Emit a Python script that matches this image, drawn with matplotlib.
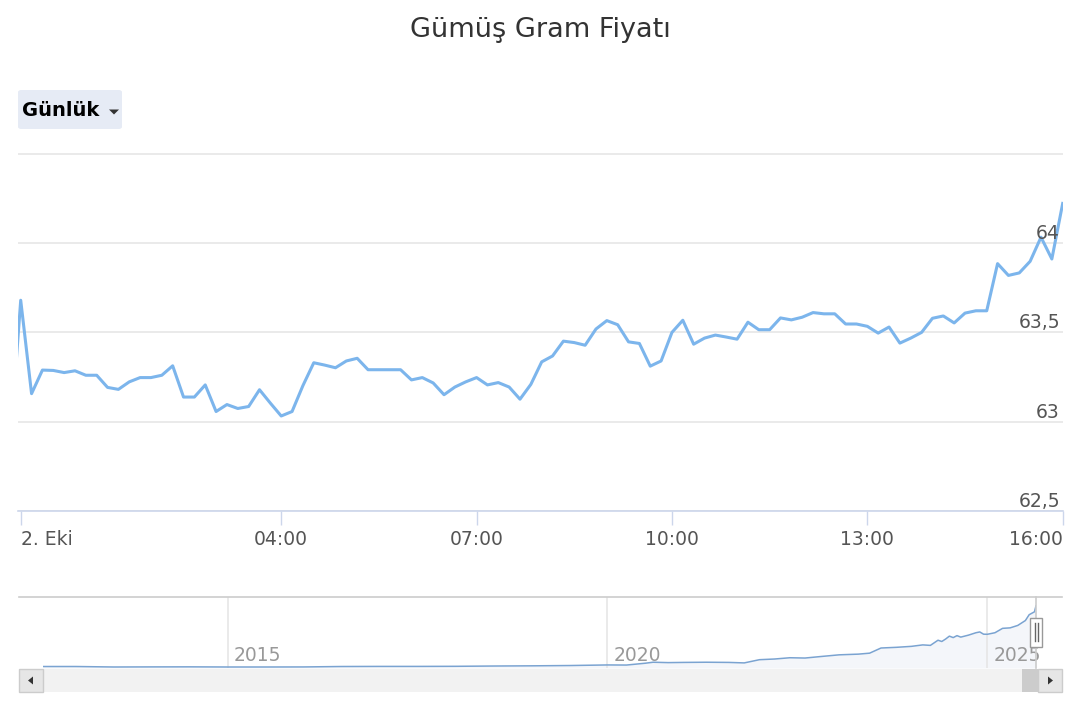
import numpy as np
import pandas as pd
import matplotlib
matplotlib.use('Agg')
import matplotlib.pyplot as plt
from matplotlib.patches import Rectangle, FancyBboxPatch, Polygon
from matplotlib.lines import Line2D

plt.rcParams['font.family'] = ['DejaVu Sans']

title = 'Gümüş Gram Fiyatı'
button_label = 'Günlük'

# 10 dakikalik gram fiyatlari, 1 Eki 23:50 - 2 Eki 16:00
start_time = '2025-10-01 23:50'
prices = [62.85,
          63.68, 63.157, 63.289, 63.287, 63.275, 63.285, 63.26, 63.26, 63.192, 63.181,
          63.223, 63.247, 63.247, 63.26, 63.313, 63.138, 63.138, 63.206, 63.057, 63.096,
          63.074, 63.085, 63.179, 63.104, 63.032, 63.057, 63.202, 63.33, 63.317, 63.302,
          63.34, 63.355, 63.291, 63.291, 63.291, 63.291, 63.234, 63.247, 63.217, 63.151,
          63.194, 63.223, 63.247, 63.206, 63.219, 63.194, 63.126, 63.209, 63.335, 63.368,
          63.451, 63.443, 63.428, 63.519, 63.566, 63.543, 63.447, 63.438, 63.311, 63.34,
          63.5, 63.568, 63.434, 63.468, 63.485, 63.474, 63.462, 63.557, 63.515, 63.515,
          63.581, 63.57, 63.585, 63.611, 63.604, 63.604, 63.547, 63.547, 63.534, 63.496,
          63.53, 63.44, 63.468, 63.5, 63.579, 63.592, 63.553, 63.608, 63.621, 63.621,
          63.885, 63.819, 63.833, 63.898, 64.033, 63.911, 64.222]

x_tick_times = ['2025-10-02 00:00', '2025-10-02 04:00', '2025-10-02 07:00',
                '2025-10-02 10:00', '2025-10-02 13:00', '2025-10-02 16:00']
x_tick_labels = ['2. Eki', '04:00', '07:00', '10:00', '13:00', '16:00']
y_ticks = [62.5, 63.0, 63.5, 64.0, 64.5]
y_tick_labels = ['62,5', '63', '63,5', '64']

# navigator: uzun donem
nav_years = [2012.57, 2013.0, 2013.5, 2014.0, 2014.5, 2015.0, 2015.5, 2016.0, 2016.5, 2017.0,
             2017.5, 2018.0, 2018.5, 2019.0, 2019.5, 2020.0, 2020.25, 2020.5, 2020.6, 2020.8,
             2021.0, 2021.3, 2021.6, 2021.8, 2022.0, 2022.2, 2022.4, 2022.6, 2022.8, 2023.05,
             2023.3, 2023.45, 2023.6, 2023.8, 2024.0, 2024.15, 2024.25, 2024.35, 2024.4, 2024.45,
             2024.5, 2024.55, 2024.6, 2024.65, 2024.75, 2024.85, 2024.9, 2024.95, 2025.0, 2025.1,
             2025.2, 2025.3, 2025.4, 2025.5, 2025.55, 2025.62, 2025.64]
nav_prices = [1.8, 1.8, 1.3, 1.4, 1.45, 1.3, 1.3, 1.35, 1.8, 1.9,
              1.9, 2.0, 2.3, 2.5, 2.8, 3.4, 3.3, 5.2, 6.2, 5.8,
              6.0, 6.2, 6.0, 5.5, 8.8, 9.5, 10.8, 10.5, 12.0, 13.8,
              14.5, 15.5, 20.8, 21.5, 22.5, 24.0, 23.5, 28.8, 27.5, 30.0,
              33.0, 31.5, 33.5, 32.0, 34.0, 36.5, 37.3, 35.0, 34.9, 36.5,
              41.0, 41.5, 44.0, 49.0, 55.0, 58.0, 64.2]
nav_tick_years = [2015, 2020, 2025]


def fx(px):
    return px / 1080


def fy(py):
    return 1 - py / 720


fig = plt.figure(figsize=(10.8, 7.2), dpi=100)

fig.text(0.5, fy(30), title, ha='center', va='center', fontsize=19.5, color='#333333')

# Günlük butonu
fig.patches.append(FancyBboxPatch((fx(18), fy(129)), fx(104), 39 / 720,
                                  boxstyle='round,pad=0,rounding_size=0.003',
                                  transform=fig.transFigure, fc='#e6ebf5', ec='none'))
fig.text(fx(22), fy(110), button_label, fontweight='bold', fontsize=14,
         ha='left', va='center', color='#000000')
fig.patches.append(Polygon([(fx(109), fy(109.5)), (fx(119), fy(109.5)), (fx(114), fy(114.5))],
                           closed=True, transform=fig.transFigure, fc='#333333', ec='none'))

# ana grafik
times = pd.date_range(start_time, periods=len(prices), freq='10min')
ax = fig.add_axes([fx(18), fy(511), fx(1062.7) - fx(18), fy(152) - fy(511)])
ax.plot(times, prices, color='#7cb5ec', lw=2.2, solid_joinstyle='round', zorder=3)
ax.set_xlim(pd.Timestamp('2025-10-01 23:57:30'), pd.Timestamp('2025-10-02 16:00'))
ax.set_ylim(62.5, 64.51)
ax.set_yticks(y_ticks)
ax.yaxis.grid(True, color='#e6e6e6', lw=1.2)
ax.tick_params(axis='y', length=0, labelleft=False)
for s in ['top', 'left', 'right']:
    ax.spines[s].set_visible(False)
ax.spines['bottom'].set_color('#ccd6eb')
ax.spines['bottom'].set_linewidth(1.2)
ax.set_xticks(pd.to_datetime(x_tick_times))
ax.set_xticklabels(x_tick_labels)
ax.tick_params(axis='x', length=10, width=1, color='#ccd6eb', pad=4,
               labelsize=13.5, labelcolor='#555555')
xt = ax.get_xticklabels()
xt[0].set_ha('left')
xt[-1].set_ha('right')
for v, lab in zip(y_ticks, y_tick_labels):
    ax.annotate(lab, xy=(1, v), xycoords=ax.get_yaxis_transform(), xytext=(-2, 3),
                textcoords='offset points', ha='right', va='baseline',
                fontsize=13.5, color='#555555', zorder=4)

# navigator
nav = fig.add_axes([fx(43), fy(668), fx(1036) - fx(43), fy(597) - fy(668)])
nav.set_xlim(2012.57, 2025.64)
nav.set_ylim(0.27, 73.2)
nav.fill_between(nav_years, nav_prices, 0.27, color='#335cad', alpha=0.05, lw=0)
nav.plot(nav_years, nav_prices, color='#7aa3d1', lw=1.1, zorder=3)
nav.set_xticks(nav_tick_years)
nav.set_yticks([])
nav.xaxis.grid(True, color='#e6e6e6', lw=1.2)
nav.tick_params(axis='x', length=0, labelbottom=False)
for s in nav.spines.values():
    s.set_visible(False)
for yr in nav_tick_years:
    nav.annotate(str(yr), xy=(yr, 0), xycoords=nav.get_xaxis_transform(), xytext=(4.3, 5),
                 textcoords='offset points', ha='left', va='baseline',
                 fontsize=13.5, color='#999999', zorder=1)

fig.lines.append(Line2D([fx(19), fx(1062)], [fy(597), fy(597)], transform=fig.transFigure,
                        color='#cccccc', lw=1.2))
fig.lines.append(Line2D([fx(1036), fx(1036)], [fy(597), fy(668)], transform=fig.transFigure,
                        color='#cccccc', lw=1.2))

# scrollbar
fig.patches.append(Rectangle((fx(19), fy(692)), fx(1043), 23 / 720, transform=fig.transFigure,
                             fc='#f2f2f2', ec='none'))
fig.patches.append(Rectangle((fx(1022), fy(692)), fx(16), 23 / 720, transform=fig.transFigure,
                             fc='#cccccc', ec='none'))
for bx in [19, 1038]:
    fig.patches.append(Rectangle((fx(bx), fy(692)), fx(24), 23 / 720, transform=fig.transFigure,
                                 fc='#e6e6e6', ec='#cccccc', lw=1))
fig.patches.append(Polygon([(fx(28), fy(680.5)), (fx(33), fy(676.5)), (fx(33), fy(684.5))],
                           closed=True, transform=fig.transFigure, fc='#333333', ec='none'))
fig.patches.append(Polygon([(fx(1053), fy(680.5)), (fx(1048), fy(676.5)), (fx(1048), fy(684.5))],
                           closed=True, transform=fig.transFigure, fc='#333333', ec='none'))

# navigator tutamaci
fig.patches.append(Rectangle((fx(1030), fy(647)), fx(12), 29 / 720, transform=fig.transFigure,
                             fc='#ffffff', ec='#999999', lw=1, zorder=5))
for hx in [1034.5, 1037.5]:
    fig.lines.append(Line2D([fx(hx), fx(hx)], [fy(623), fy(641)], transform=fig.transFigure,
                            color='#666666', lw=1, zorder=6))

fig.savefig('out.png', dpi=100)
